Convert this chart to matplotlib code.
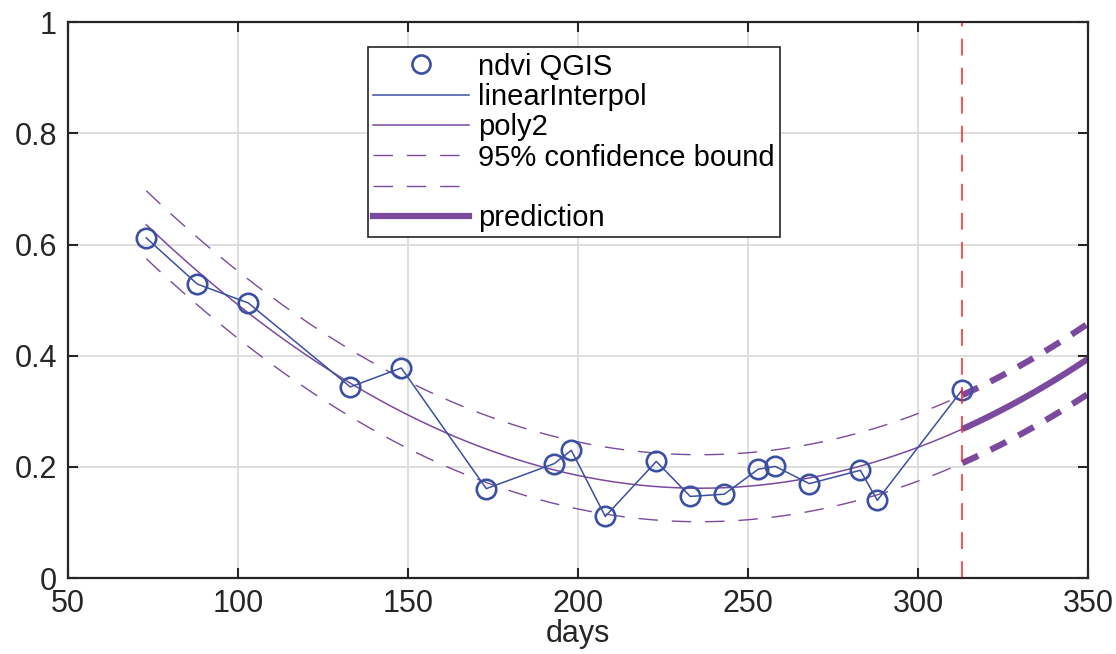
import numpy as np
import matplotlib.pyplot as plt
from matplotlib.lines import Line2D

plt.rcParams['font.family'] = ['Liberation Sans', 'DejaVu Sans']

# donnees
days = [73, 88, 103, 133, 148, 173, 193, 198, 208, 223, 233, 243, 253, 258, 268, 283, 288, 313]
ndvi = [0.612, 0.529, 0.495, 0.344, 0.378, 0.161, 0.206, 0.230, 0.111, 0.210,
        0.147, 0.151, 0.196, 0.201, 0.170, 0.194, 0.140, 0.339]
jour_coupure = 313
jour_fin = 350
t_95 = 1.97  # student, grand nombre de ddl

x = np.array(days, dtype=float)
y = np.array(ndvi)

# le poly2 est ajuste sur la serie interpolee jour par jour
x_jour = np.arange(days[0], days[-1] + 1, dtype=float)
y_jour = np.interp(x_jour, x, y)

X = np.vander(x_jour, 3)
coef, *_ = np.linalg.lstsq(X, y_jour, rcond=None)
res = y_jour - X @ coef
s = np.sqrt(np.sum(res ** 2) / (len(x_jour) - 3))
XtX_inv = np.linalg.inv(X.T @ X)


def fit_bornes(xx):
    V = np.vander(xx, 3)
    yy = V @ coef
    h = t_95 * s * np.sqrt(1 + np.einsum('ij,jk,ik->i', V, XtX_inv, V))
    return yy, yy - h, yy + h


x_fit = np.linspace(x.min(), jour_coupure, 200)
x_pred = np.linspace(jour_coupure, jour_fin, 60)
y_fit, lo_fit, hi_fit = fit_bornes(x_fit)
y_pred, lo_pred, hi_pred = fit_bornes(x_pred)

bleu = '#3B4FA3'
violet = '#7B4A9E'

fig = plt.figure(figsize=(11.16, 6.54), dpi=100)
ax = fig.add_axes([0.061, 0.116, 0.914, 0.85])

ax.plot(x_fit, y_fit, color=violet, lw=1.1)
ax.plot(x_fit, lo_fit, color=violet, lw=1.0, dashes=(14, 10))
ax.plot(x_fit, hi_fit, color=violet, lw=1.0, dashes=(14, 10))
ax.plot(x_pred, y_pred, color=violet, lw=4.5, solid_capstyle='butt')
ax.plot(x_pred, lo_pred, color=violet, lw=4.5, dashes=(2.8, 2.2))
ax.plot(x_pred, hi_pred, color=violet, lw=4.5, dashes=(2.8, 2.2))
ax.plot(x, y, color=bleu, lw=1.1)
ax.plot(x, y, 'o', mfc='none', mec=bleu, ms=14, mew=1.9)
ax.axvline(jour_coupure, color='#FF2020', lw=1.1, dashes=(11, 8))

ax.set_xlim(50, 350)
ax.set_ylim(0, 1)
ax.set_xticks(np.arange(50, 351, 50))
ax.set_yticks([0, 0.2, 0.4, 0.6, 0.8, 1])
ax.set_yticklabels(['0', '0.2', '0.4', '0.6', '0.8', '1'])
ax.grid(True, color='#DCDCDC', lw=1.3)
ax.set_axisbelow(True)
ax.tick_params(direction='in', length=7, width=1.5, colors='#262626',
               labelsize=22, top=True, right=True, pad=8)
for sp in ax.spines.values():
    sp.set_color('#262626')
    sp.set_linewidth(1.6)
ax.set_xlabel('days', fontsize=22, color='#262626', labelpad=0)

handles = [
    Line2D([], [], ls='none', marker='o', mfc='none', mec=bleu, ms=13, mew=1.9),
    Line2D([], [], color=bleu, lw=1.1),
    Line2D([], [], color=violet, lw=1.1),
    Line2D([], [], color=violet, lw=1.0, dashes=(14, 10)),
    Line2D([], [], color=violet, lw=1.0, dashes=(14, 10)),
    Line2D([], [], color=violet, lw=4.5),
]
labels = ['ndvi QGIS', 'linearInterpol', 'poly2', '95% confidence bound', ' ', 'prediction']
leg = ax.legend(handles, labels, loc='upper left', bbox_to_anchor=(0.294, 0.955),
                borderaxespad=0, fontsize=21, handlelength=3.3, handletextpad=0.3,
                labelspacing=0.08, fancybox=False, framealpha=1,
                edgecolor='#262626', borderpad=0.18)
leg.get_frame().set_linewidth(1.2)

fig.savefig('out.png', dpi=100)
